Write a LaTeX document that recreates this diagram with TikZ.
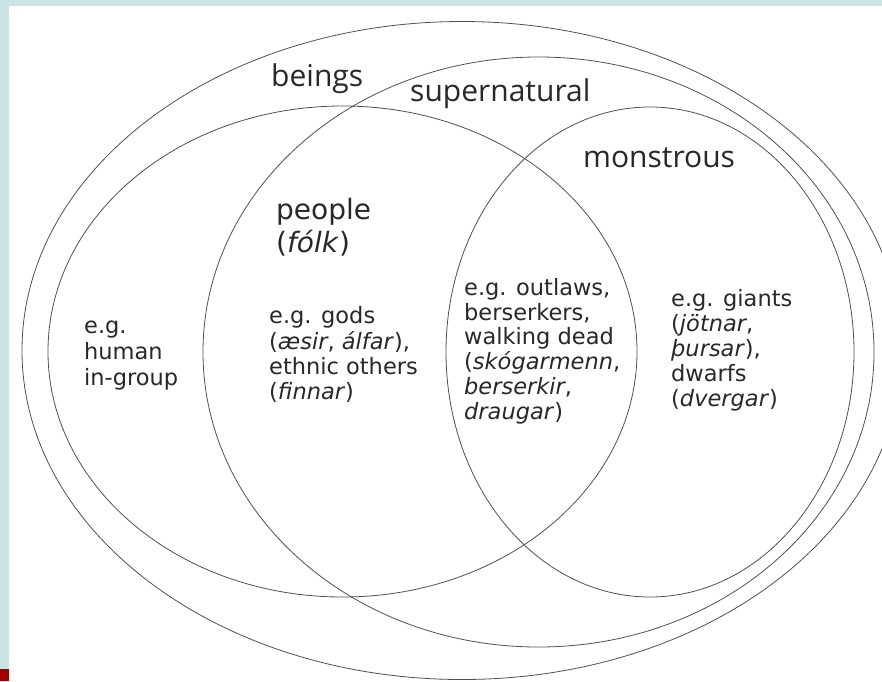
\documentclass[tikz,border=0pt]{standalone}
\usepackage{fontspec}
\setmainfont{DejaVu Sans}
\newfontfamily\titlefont{Open Sans}
\usetikzlibrary{shapes.geometric}
\definecolor{frameteal}{RGB}{201,228,226}
\definecolor{cornerred}{RGB}{165,0,0}
\definecolor{inkgray}{RGB}{40,40,40}
\definecolor{linegray}{RGB}{80,80,80}
\begin{document}
\begin{tikzpicture}[x=1pt,y=-1pt,
  venn/.style={draw=linegray, line width=0.8pt, ellipse, inner sep=0pt, outer sep=0pt},
  titletext/.style={font=\titlefont\fontsize{30}{34}\selectfont, text=inkgray, inner sep=0pt, anchor=base west},
  extext/.style={font=\fontsize{22.5}{25}\selectfont, text=inkgray, inner sep=0pt, anchor=north west, align=left},
]
\useasboundingbox (0,0) rectangle (882,681);
\fill[frameteal] (0,0) rectangle (882,681);
\fill[white] (9,6) rectangle (882,681);
\fill[cornerred] (0,669) rectangle (9,681);
\begin{scope}
\clip (9,6) rectangle (882,681);
\node[venn, minimum width=880pt, minimum height=658pt] (beings) at (462,350.5) {};
\node[venn, minimum width=589pt, minimum height=491pt] (people) at (342.5,351.5) {};
\node[venn, minimum width=671pt, minimum height=590pt] (supernatural) at (538.5,352) {};
\node[venn, minimum width=408pt, minimum height=490pt] (monstrous) at (650,352) {};
\end{scope}
\node[titletext] (beingslbl) at (271,86) {beings};
\node[titletext] (superlbl) at (410,101.5) {supernatural};
\node[titletext] (monstlbl) at (583,167) {monstrous};
\node[extext, font=\fontsize{28}{31}\selectfont] (peoplelbl) at (276,197.8) {\strut people\\(\textit{fólk})};
\node[extext, font=\fontsize{22.5}{26}\selectfont] (ingroup) at (84,315) {\strut e.g.\\human\\in-group};
\node[extext] (gods) at (269,305.5) {\strut e.g. gods\\(\textit{æsir}, \textit{álfar}),\\ethnic others\\(\textit{finnar})};
\node[extext, font=\fontsize{22.5}{24.8}\selectfont] (outlaws) at (464,277.8) {\strut e.g. outlaws,\\berserkers,\\walking dead\\(\textit{skógarmenn},\\\textit{berserkir},\\\textit{draugar})};
\node[extext] (giants) at (671,289) {\strut e.g. giants\\(\textit{jötnar},\\\textit{þursar}),\\dwarfs\\(\textit{dvergar})};
\end{tikzpicture}
\end{document}
